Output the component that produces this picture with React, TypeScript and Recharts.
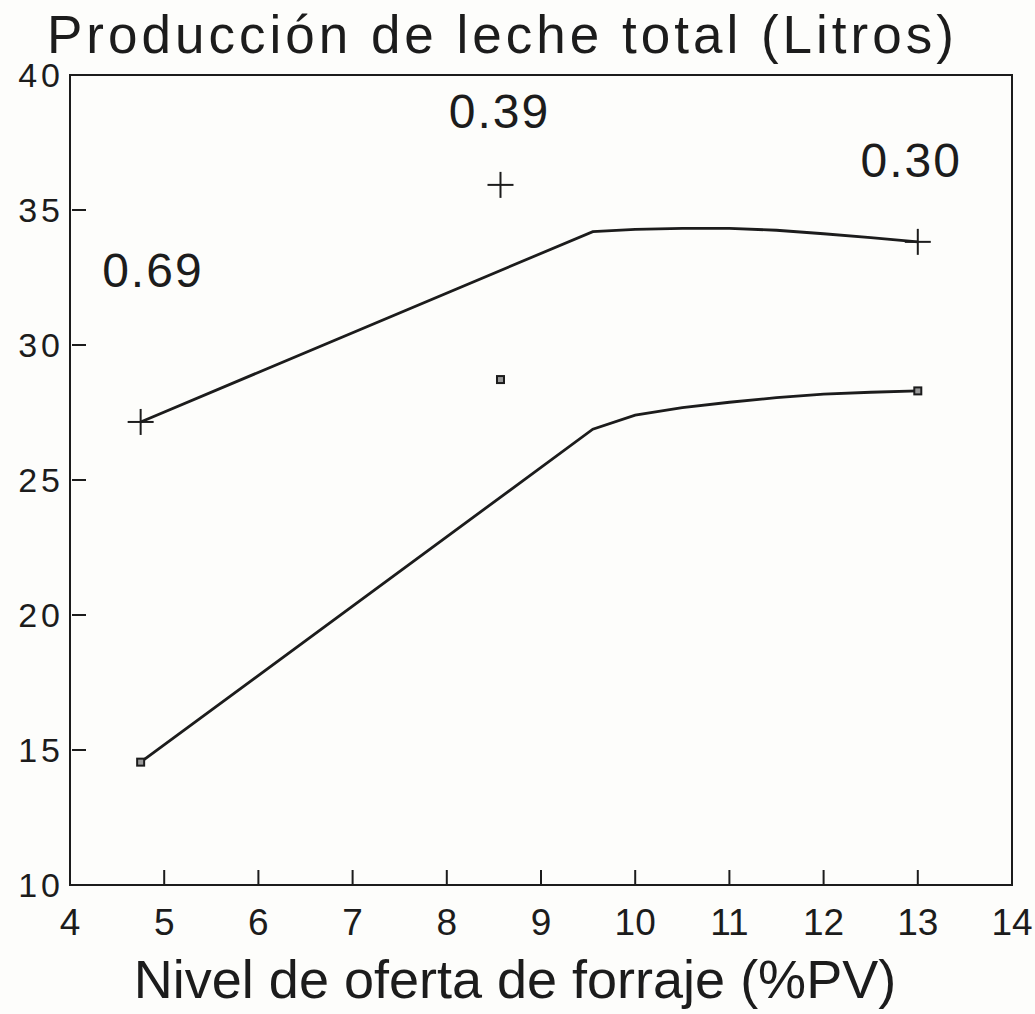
import React from "react";
import {
  ComposedChart,
  Line,
  Scatter,
  XAxis,
  YAxis,
  ReferenceArea,
  ReferenceDot,
  Label,
} from "recharts";

// ─── Data ─────────────────────────────────────────────────────────────────────
const upperCurve = [
  { x: 4.75, y: 27.15 },
  { x: 9.55, y: 34.2 },
  { x: 10, y: 34.28 },
  { x: 10.5, y: 34.32 },
  { x: 11, y: 34.32 },
  { x: 11.5, y: 34.25 },
  { x: 12, y: 34.12 },
  { x: 12.5, y: 33.98 },
  { x: 13, y: 33.82 },
];

const lowerCurve = [
  { x: 4.75, y: 14.55 },
  { x: 9.55, y: 26.88 },
  { x: 10, y: 27.4 },
  { x: 10.5, y: 27.68 },
  { x: 11, y: 27.88 },
  { x: 11.5, y: 28.05 },
  { x: 12, y: 28.18 },
  { x: 12.5, y: 28.25 },
  { x: 13, y: 28.3 },
];

const crossPoints = [
  { x: 4.75, y: 27.15 },
  { x: 8.57, y: 35.93 },
  { x: 13, y: 33.82 },
];

const squarePoints = [
  { x: 4.75, y: 14.55 },
  { x: 8.57, y: 28.72 },
  { x: 13, y: 28.3 },
];

const annotations = [
  { x: 4.88, y: 32.78, text: "0.69" },
  { x: 8.56, y: 38.67, text: "0.39" },
  { x: 12.93, y: 36.85, text: "0.30" },
];

const xTicks = [4, 5, 6, 7, 8, 9, 10, 11, 12, 13, 14];
const yTicks = [10, 15, 20, 25, 30, 35, 40];

const INK = "#1c1c1c";
const FONT = "'Liberation Sans', Arial, Helvetica, sans-serif";

// ─── Markers ─────────────────────────────────────────────────────────────────
function Cross({ cx, cy }: any) {
  if (cx == null || cy == null) return null;
  return (
    <g stroke={INK} strokeWidth={2}>
      <line x1={cx - 13} y1={cy} x2={cx + 13} y2={cy} />
      <line x1={cx} y1={cy - 13} x2={cx} y2={cy + 13} />
    </g>
  );
}

function Square({ cx, cy }: any) {
  if (cx == null || cy == null) return null;
  return (
    <rect
      x={cx - 3.5}
      y={cy - 3.5}
      width={7}
      height={7}
      fill="#999"
      stroke={INK}
      strokeWidth={2}
    />
  );
}

// ─── Inward ticks ────────────────────────────────────────────────────────────
function YTick({ x, y, payload }: any) {
  const v = payload.value;
  const inner = v !== 10 && v !== 40;
  return (
    <g>
      {inner && (
        <line x1={x + 8} y1={y} x2={x + 22} y2={y} stroke={INK} strokeWidth={2} />
      )}
      <text
        x={x}
        y={y}
        textAnchor="end"
        dominantBaseline="central"
        fontSize={34}
        letterSpacing={4}
        fontFamily={FONT}
        fill={INK}
      >
        {v}
      </text>
    </g>
  );
}

function XTick({ x, y, payload }: any) {
  const v = payload.value;
  const inner = v !== 4 && v !== 14;
  return (
    <g>
      {inner && (
        <line x1={x} y1={y - 20} x2={x} y2={y - 35} stroke={INK} strokeWidth={2} />
      )}
      <text
        x={x}
        y={y + 4}
        textAnchor="middle"
        dominantBaseline="hanging"
        fontSize={37}
        fontFamily={FONT}
        fill={INK}
      >
        {v}
      </text>
    </g>
  );
}

export default function App() {
  return (
    <div
      style={{
        position: "absolute",
        left: 0,
        top: 0,
        width: 1035,
        height: 1014,
        background: "#fdfdfb",
        fontFamily: FONT,
      }}
    >
      <div
        style={{
          position: "absolute",
          left: 47,
          top: 8,
          fontSize: 53,
          lineHeight: 1,
          letterSpacing: 4,
          color: INK,
          whiteSpace: "nowrap",
        }}
      >
        Producción de leche total (Litros)
      </div>

      <ComposedChart
        width={1035}
        height={1014}
        margin={{ top: 75, right: 23, bottom: 0, left: 0 }}
      >
        <XAxis
          type="number"
          dataKey="x"
          domain={[4, 14]}
          ticks={xTicks}
          interval={0}
          height={129}
          axisLine={false}
          tickLine={false}
          tickSize={0}
          tickMargin={20}
          tick={<XTick />}
        >
          <Label
            value="Nivel de oferta de forraje (%PV)"
            position="insideBottom"
            offset={16}
            dx={-26}
            fontSize={54}
            fontFamily={FONT}
            fill={INK}
          />
        </XAxis>
        <YAxis
          type="number"
          dataKey="y"
          domain={[10, 40]}
          ticks={yTicks}
          interval={0}
          width={70}
          axisLine={false}
          tickLine={false}
          tickSize={0}
          tickMargin={6}
          tick={<YTick />}
        />

        <ReferenceArea
          x1={4}
          x2={14}
          y1={10}
          y2={40}
          fill="none"
          fillOpacity={0}
          stroke={INK}
          strokeWidth={2}
          ifOverflow="visible"
        />

        <Line
          data={upperCurve}
          dataKey="y"
          type="linear"
          stroke={INK}
          strokeWidth={2.8}
          dot={false}
          activeDot={false}
          isAnimationActive={false}
        />
        <Line
          data={lowerCurve}
          dataKey="y"
          type="linear"
          stroke={INK}
          strokeWidth={2.8}
          dot={false}
          activeDot={false}
          isAnimationActive={false}
        />
        <Scatter
          data={crossPoints}
          dataKey="y"
          shape={<Cross />}
          isAnimationActive={false}
        />
        <Scatter
          data={squarePoints}
          dataKey="y"
          shape={<Square />}
          isAnimationActive={false}
        />

        {annotations.map((a) => (
          <ReferenceDot
            key={a.text}
            x={a.x}
            y={a.y}
            r={0}
            fill="none"
            stroke="none"
            label={{
              value: a.text,
              position: "center",
              fontSize: 48,
              letterSpacing: 2,
              fontFamily: FONT,
              fill: INK,
            }}
          />
        ))}
      </ComposedChart>
    </div>
  );
}
